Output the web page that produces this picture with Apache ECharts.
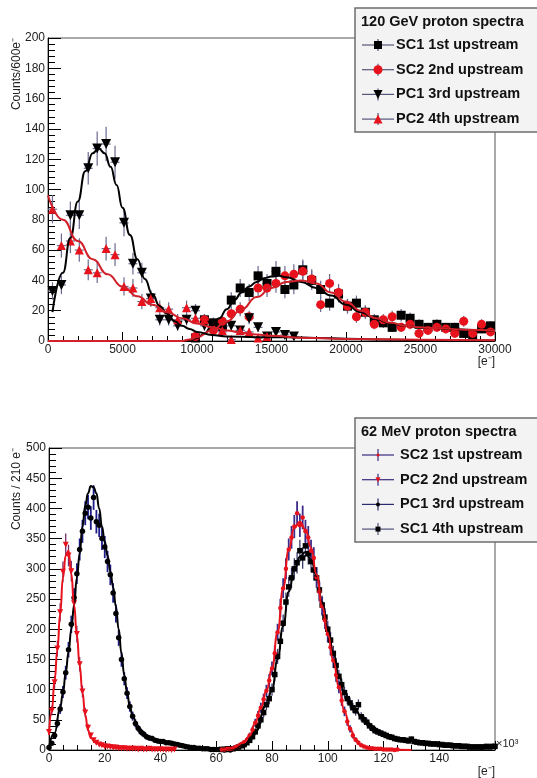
<!DOCTYPE html>
<html>
<head>
<meta charset="utf-8">
<title>proton spectra</title>
<script src="https://cdn.jsdelivr.net/npm/echarts@6/dist/echarts.min.js"></script>
<style>
  html, body { margin: 0; padding: 0; background: #fff; }
  #main { width: 537px; height: 778px; }
</style>
</head>
<body>
<div id="main"></div>
<script>
// ---- 120 GeV spectra (bins of 600 e-) ----
const binTop = [300, 900, 1500, 2100, 2700, 3300, 3900, 4500, 5100, 5700, 6300, 6900, 7500, 8100, 8700, 9300,
  9900, 10500, 11100, 11700, 12300, 12900, 13500, 14100, 14700, 15300, 15900, 16500, 17100, 17700, 18300, 18900,
  19500, 20100, 20700, 21300, 21900, 22500, 23100, 23700, 24300, 24900, 25500, 26100, 26700, 27300, 27900, 28500,
  29100, 29700];
const sc1Top = [null, null, null, null, null, null, null, null, null, null, null, null, null, null, null, null,
  2, 14, 12, 10, 27, 35, 32, 43, 38, 46, 34, 37, 47, 40, 34, 25, 31, 23, 25, 19, 14, 12, 9, 17, 15, 11, 9, 11, 9, 9, 5, 4, 8, 10];
const sc2Top = [null, null, null, null, null, null, null, null, null, null, null, null, null, null, null, null,
  3, 14, 7, 13, 18, 21, 16, 35, 35, 38, 43, 44, 46, 41, 24, 38, 32, 23, 16, 19, 11, 14, 16, 9, 11, 5, 7, 9, 8, 5, 13, 5, 11, 6];
const pc1Top = [33, 37, 83, 83, 114, 127, 130, 118, 78, 51, 45, 28, 14, 14, 10, 14, 20, 10, 9, 6, 10, 7, 15, 9, 3, 6, 4, 3,
  null, null, null, null, null, null, null, null, null, null, null, null, null, null, null, null, null, null, null, null, null, null];
const pc2Top = [87, 63, 66, 60, 47, 45, 61, 57, 36, 35, 26, 28, 22, 21, 14, 22, 15, 14, 9, 7, 1, 7, 6, 2, 3,
  null, null, null, null, null, null, null, null, null, null, null, null, null, null, null, null, null, null, null, null, null, null, null, null, null];

// fitted curves
const fitSc1TopX = [0, 9000, 9500, 10000, 10500, 11000, 11500, 12000, 12500, 13000, 13500, 14000, 14500, 15000, 15500, 16000,
  17000, 18000, 19000, 20000, 21000, 22000, 23000, 24000, 25000, 26000, 27000, 28000, 29000, 30000];
const fitSc1TopY = [0, 0, 0.5, 2, 5, 10, 15, 21, 27, 32, 36, 39, 41.5, 42.5, 43, 42, 39, 35, 30, 24, 19, 14.5, 11.5, 10, 9, 8.5, 8, 7.5, 7, 7];
const fitSc2TopX = [0, 9000, 9500, 10000, 11000, 12000, 13000, 14000, 15000, 16000, 17000, 18000, 19000, 20000, 21000, 22000,
  23000, 24000, 25000, 26000, 28000, 30000];
const fitSc2TopY = [0, 0, 1, 2.5, 7, 13, 21, 29, 35, 39, 40, 38, 32, 26, 20, 15, 12, 10, 9, 8.5, 7.5, 7];
const fitPc1TopX = [300, 1000, 1500, 2000, 2500, 3000, 3400, 3800, 4200, 4600, 5000, 5500, 6000, 6500, 7000, 7500, 8000, 8500,
  9000, 9500, 10000, 11000, 12000, 14000, 16000, 18000, 20000, 22000, 25000, 30000];
const fitPc1TopY = [19, 45, 68, 92, 112, 124, 127, 124, 115, 103, 88, 70, 54, 41, 31, 23, 18, 13, 10, 8, 6, 4, 3, 2.5, 2.5, 2, 1.5, 1, 0.5, 0.3];
const fitPc2TopX = [0, 1000, 2000, 3000, 4000, 5000, 6000, 7000, 8000, 9000, 10000, 11000, 12000, 13000, 14000, 15000, 17000, 20000, 25000, 30000];
const fitPc2TopY = [96, 80, 66, 54, 44, 36, 29.5, 24, 19, 15, 11.5, 9, 7, 5.5, 4.3, 3.4, 2.2, 1.4, 0.8, 0.5];

// ---- 62 MeV spectra (x in 10^3 e-, one value per 10^3 e-) ----
const pc2BotStart = 0;
const pc2Bot = [30, 65, 112, 168, 228, 295, 340, 322, 296, 243, 192, 142, 97, 62, 37, 24, 16, 12, 9, 8, 6, 6, 5, 4, 4, 3, 3, 3, 2, 2,
  2, 2, 1, 2, 1, 1, 2, 1, 1, 1, 1, 1, 0, 1, 0, 1];
const pc1BotStart = 0;
const pc1Bot = [4, 11, 24, 44, 68, 96, 128, 166, 208, 252, 292, 332, 362, 392, 402, 384, 418, 378, 372, 350, 336, 312, 290, 260,
  226, 186, 150, 118, 94, 72, 56, 44, 36, 30, 26, 22, 20, 19, 16, 15, 14, 14, 12, 12, 11, 10, 9, 8, 7, 6, 5, 4, 4, 3, 3, 2, 2, 2,
  1, 1, 1, 1, 1, 0, 1, 0];
const sc2BotStart = 62;
const sc2Bot = [1, 1, 2, 2, 3, 5, 7, 10, 13, 17, 24, 33, 45, 57, 70, 84, 98, 115, 135, 160, 195, 235, 268, 300, 332, 352, 370, 392,
  372, 385, 362, 352, 330, 318, 286, 262, 238, 215, 192, 170, 148, 124, 104, 82, 64, 47, 35, 24, 17, 12, 8, 6, 4, 3, 3, 2, 2, 2,
  1, 1, 1, 1, 0, 1];
const sc1BotStart = 62;
const sc1Bot = [1, 1, 2, 2, 2, 3, 5, 7, 9, 12, 16, 22, 30, 40, 50, 62, 75, 85, 100, 125, 155, 180, 210, 245, 270, 285, 300, 310,
  330, 318, 338, 325, 312, 298, 285, 265, 240, 220, 200, 182, 160, 140, 122, 108, 95, 85, 78, 70, 65, 75, 55, 50, 46, 40, 36,
  32, 30, 28, 26, 24, 22, 21, 19, 18, 17, 17, 16, 15, 18, 14, 13, 12, 12, 11, 11, 10, 10, 10, 9, 9, 8, 8, 8, 7, 7, 7, 6, 6,
  6, 5, 5, 5, 5, 5, 5, 6, 5, 6, 6];

const fitPc2BotX = [0, 1, 2, 3, 4, 5, 6, 7, 8, 9, 10, 11, 12, 13, 14, 15, 17, 20, 25, 30, 40];
const fitPc2BotY = [25, 65, 115, 165, 225, 285, 322, 330, 292, 240, 190, 140, 95, 58, 33, 20, 11, 6, 3, 2, 1];
const fitPc1BotX = [0, 2, 4, 5, 6, 7, 8, 9, 10, 11, 12, 13, 14, 15, 16, 17, 18, 19, 20, 21, 22, 23, 24, 25, 26, 27, 28, 29, 30,
  32, 35, 40, 45, 50, 55, 60];
const fitPc1BotY = [5, 28, 70, 94, 128, 162, 200, 240, 285, 325, 370, 405, 425, 437, 435, 425, 400, 370, 345, 322, 296, 270,
  238, 200, 160, 124, 95, 72, 56, 36, 22, 15, 10, 6, 3, 1];
const fitSc2BotX = [62, 66, 70, 72, 74, 76, 78, 80, 82, 84, 86, 88, 90, 92, 94, 96, 98, 100, 102, 104, 106, 108, 110, 112, 115, 120, 130];
const fitSc2BotY = [0, 3, 13, 24, 45, 70, 98, 135, 195, 268, 332, 368, 378, 365, 335, 290, 238, 192, 148, 104, 64, 35, 17, 8, 3, 1, 0];
const fitSc1BotX = [62, 66, 70, 74, 78, 80, 82, 84, 86, 88, 90, 92, 94, 96, 98, 100, 102, 104, 106, 108, 110, 112, 115, 120,
  125, 130, 140, 150, 160];
const fitSc1BotY = [0, 2, 9, 30, 75, 100, 150, 205, 262, 298, 320, 328, 315, 288, 245, 202, 162, 124, 96, 78, 66, 55, 41, 27,
  19, 15, 9, 6, 5];

const topTicksX = [0, 5000, 10000, 15000, 20000, 25000, 30000];
const botTicksX = [0, 20, 40, 60, 80, 100, 120, 140];

const font = '"Liberation Sans", Arial, Helvetica, sans-serif';
const red = '#e8121c';

function pairs(xs, ys) {
  const out = [];
  xs.forEach((x, i) => { if (ys[i] != null) out.push([x, ys[i]]); });
  return out;
}
function binned(start, ys) {
  return ys.map((y, i) => [start + i, y]);
}

// vertical sqrt(N) bar plus horizontal half-bin bar
function errBars(points, half, color, gi, width) {
  return {
    type: 'custom', xAxisIndex: gi, yAxisIndex: gi, silent: true, clip: true, z: 2,
    data: points.map(p => [p[0], p[1], Math.sqrt(p[1]), half]),
    encode: { x: 0, y: 1 },
    renderItem: function (params, api) {
      const x = api.value(0), y = api.value(1), e = api.value(2), h = api.value(3);
      const a = api.coord([x, y - e]), b = api.coord([x, y + e]);
      const c = api.coord([x - h, y]), d = api.coord([x + h, y]);
      const st = { stroke: color, lineWidth: width };
      return {
        type: 'group', children: [
          { type: 'line', shape: { x1: a[0], y1: a[1], x2: b[0], y2: b[1] }, style: st },
          { type: 'line', shape: { x1: c[0], y1: c[1], x2: d[0], y2: d[1] }, style: st }
        ]
      };
    }
  };
}
function marks(points, symbol, size, color, gi, rotate) {
  return {
    type: 'scatter', xAxisIndex: gi, yAxisIndex: gi, data: points, symbol: symbol, symbolSize: size,
    symbolRotate: rotate || 0, itemStyle: { color: color, opacity: 1 }, silent: true, z: 3, clip: true
  };
}
function fit(xs, ys, color, gi) {
  return {
    type: 'line', xAxisIndex: gi, yAxisIndex: gi, data: pairs(xs, ys), showSymbol: false, smooth: 0.5,
    smoothMonotone: 'x', lineStyle: { color: color, width: 2 }, silent: true, z: 4, clip: true
  };
}

function xAxis(gi, max, interval, minorSplit, tickLen, shown) {
  return {
    type: 'value', gridIndex: gi, min: 0, max: max, interval: interval,
    axisLine: { show: true, onZero: false, lineStyle: { color: '#000', width: 1 } },
    axisTick: { show: true, inside: true, length: tickLen, lineStyle: { color: '#000' } },
    minorTick: { show: true, splitNumber: minorSplit, length: Math.round(tickLen / 2), lineStyle: { color: '#000' } },
    splitLine: { show: false },
    axisLabel: {
      margin: 3, fontSize: 12, color: '#222', fontFamily: font, showMaxLabel: true,
      formatter: v => (shown.indexOf(v) >= 0 ? String(v) : '')
    }
  };
}
function yAxis(gi, max, interval, tickLen) {
  return {
    type: 'value', gridIndex: gi, min: 0, max: max, interval: interval,
    axisLine: { show: true, onZero: false, lineStyle: { color: '#000', width: 1 } },
    axisTick: { show: true, inside: true, length: tickLen, lineStyle: { color: '#000' } },
    minorTick: { show: true, splitNumber: 5, length: Math.round(tickLen / 2), lineStyle: { color: '#000' } },
    splitLine: { show: false },
    axisLabel: { margin: 3, fontSize: 12, color: '#222', fontFamily: font, showMaxLabel: true }
  };
}

// legend drawn as graphics
function legendBox(top, title, items) {
  const els = [];
  els.push({ type: 'rect', shape: { x: 355, y: top, width: 190, height: 124 },
    style: { fill: '#f3f3f3', stroke: '#6e6e6e', lineWidth: 1.5 }, z: 20 });
  els.push({ type: 'text', x: 361, y: top + 14,
    style: { text: title, font: 'bold 14.5px ' + font, fill: '#111', textVerticalAlign: 'middle' }, z: 21 });
  items.forEach((it, k) => {
    const y = top + 37 + k * 24.7, cx = 378;
    els.push({ type: 'line', shape: { x1: 362, y1: y, x2: 394, y2: y }, style: { stroke: it.line, lineWidth: 1.2 }, z: 21 });
    els.push({ type: 'line', shape: { x1: cx, y1: y - 6, x2: cx, y2: y + 6 }, style: { stroke: it.line, lineWidth: 1.2 }, z: 21 });
    const s = it.size, h = s / 2;
    let shape;
    if (it.sym === 'rect') shape = { type: 'rect', shape: { x: cx - h, y: y - h, width: s, height: s } };
    else if (it.sym === 'circle') shape = { type: 'circle', shape: { cx: cx, cy: y, r: h } };
    else if (it.sym === 'down') shape = { type: 'polygon', shape: { points: [[cx - h, y - h], [cx + h, y - h], [cx, y + h]] } };
    else shape = { type: 'polygon', shape: { points: [[cx - h, y + h], [cx + h, y + h], [cx, y - h]] } };
    shape.style = { fill: it.color };
    shape.z = 22;
    els.push(shape);
    els.push({ type: 'text', x: it.tx, y: y,
      style: { text: it.text, font: 'bold 14.5px ' + font, fill: '#111', textVerticalAlign: 'middle' }, z: 21 });
  });
  return els;
}

const errTop = '#6a6a90';
const series = [
  errBars(pairs(binTop, sc1Top), 300, errTop, 0, 1.2), marks(pairs(binTop, sc1Top), 'rect', 9, '#000', 0), fit(fitSc1TopX, fitSc1TopY, '#000', 0),
  errBars(pairs(binTop, sc2Top), 300, errTop, 0, 1.2), marks(pairs(binTop, sc2Top), 'circle', 9, red, 0), fit(fitSc2TopX, fitSc2TopY, '#d0202a', 0),
  errBars(pairs(binTop, pc1Top), 300, errTop, 0, 1.2), marks(pairs(binTop, pc1Top), 'triangle', 10, '#000', 0, 180), fit(fitPc1TopX, fitPc1TopY, '#000', 0),
  errBars(pairs(binTop, pc2Top), 300, errTop, 0, 1.2), marks(pairs(binTop, pc2Top), 'triangle', 9, red, 0), fit(fitPc2TopX, fitPc2TopY, '#d0202a', 0),

  errBars(binned(sc1BotStart, sc1Bot), 0.3, '#3a3a70', 1, 1.3), marks(binned(sc1BotStart, sc1Bot), 'rect', 5.5, '#000', 1), fit(fitSc1BotX, fitSc1BotY, '#000', 1),
  errBars(binned(pc1BotStart, pc1Bot), 0.3, '#1c1c88', 1, 1.8), marks(binned(pc1BotStart, pc1Bot), 'circle', 5.5, '#000', 1), fit(fitPc1BotX, fitPc1BotY, '#000', 1),
  errBars(binned(sc2BotStart, sc2Bot), 0.3, '#3c2a88', 1, 1.8), marks(binned(sc2BotStart, sc2Bot), 'circle', 4.5, red, 1), fit(fitSc2BotX, fitSc2BotY, red, 1),
  errBars(binned(pc2BotStart, pc2Bot), 0.3, '#7a2a6a', 1, 1.3), marks(binned(pc2BotStart, pc2Bot), 'triangle', 6, red, 1, 180), fit(fitPc2BotX, fitPc2BotY, red, 1)
];

const graphics = [].concat(
  legendBox(8, '120 GeV proton spectra', [
    { text: 'SC1 1st upstream', sym: 'rect', size: 8, color: '#000', line: '#55557a', tx: 396 },
    { text: 'SC2 2nd upstream', sym: 'circle', size: 9, color: red, line: '#55557a', tx: 396 },
    { text: 'PC1 3rd upstream', sym: 'down', size: 9, color: '#000', line: '#55557a', tx: 396 },
    { text: 'PC2 4th upstream', sym: 'up', size: 9, color: red, line: '#55557a', tx: 396 }
  ]),
  legendBox(418, '62 MeV proton spectra', [
    { text: 'SC2 1st upstream', sym: 'circle', size: 3, color: red, line: '#3a2a80', tx: 400 },
    { text: 'PC2 2nd upstream', sym: 'down', size: 5, color: red, line: '#3a2a80', tx: 400 },
    { text: 'PC1 3rd upstream', sym: 'circle', size: 4, color: '#000', line: '#2a2a70', tx: 400 },
    { text: 'SC1 4th upstream', sym: 'rect', size: 5, color: '#000', line: '#50507a', tx: 400 }
  ]),
  [
    { type: 'text', x: 17, y: 38, rotation: Math.PI / 2,
      style: { text: 'Counts/600e⁻', font: '12px ' + font, fill: '#222', textAlign: 'right', textVerticalAlign: 'middle' } },
    { type: 'text', x: 17, y: 448, rotation: Math.PI / 2,
      style: { text: 'Counts / 210 e⁻', font: '12px ' + font, fill: '#222', textAlign: 'right', textVerticalAlign: 'middle' } },
    { type: 'text', x: 495, y: 362,
      style: { text: '[e⁻]', font: '12px ' + font, fill: '#222', textAlign: 'right', textVerticalAlign: 'middle' } },
    { type: 'text', x: 495, y: 772,
      style: { text: '[e⁻]', font: '12px ' + font, fill: '#222', textAlign: 'right', textVerticalAlign: 'middle' } },
    { type: 'text', x: 496, y: 744,
      style: { text: '×10³', font: '11px ' + font, fill: '#222', textAlign: 'left', textVerticalAlign: 'middle' } }
  ]
);

const chart = echarts.init(document.getElementById('main'), null, { renderer: 'canvas' });
chart.setOption({
  animation: false,
  backgroundColor: '#fff',
  grid: [
    { left: 48, right: 42, top: 38, height: 303, show: true, borderColor: '#555', borderWidth: 1, backgroundColor: 'transparent' },
    { left: 49, right: 42, top: 448, height: 302, show: true, borderColor: '#555', borderWidth: 1, backgroundColor: 'transparent' }
  ],
  xAxis: [
    xAxis(0, 30000, 5000, 5, 9, topTicksX),
    xAxis(1, 160, 20, 4, 9, botTicksX)
  ],
  yAxis: [
    yAxis(0, 200, 20, 13),
    yAxis(1, 500, 50, 13)
  ],
  series: series,
  graphic: graphics
});
</script>
</body>
</html>
